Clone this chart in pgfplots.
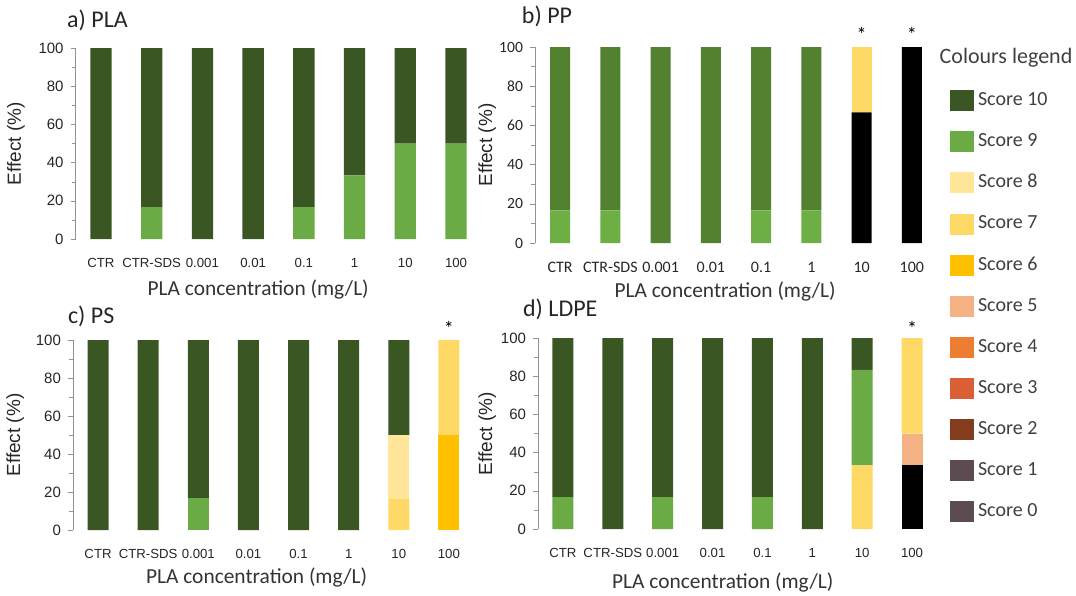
\documentclass[border=0pt]{standalone}
\usepackage{fontspec}
\setmainfont{Carlito}
\newfontfamily\arialf{Liberation Sans}
\usepackage{pgfplots}
\usepackage{pgfplotstable}
\pgfplotsset{compat=1.18}
\definecolor{sc10}{HTML}{3A5623}
\definecolor{sc9}{HTML}{6AAB45}
\definecolor{sc10b}{HTML}{52812F}
\definecolor{sc9b}{HTML}{6DAE45}
\definecolor{sc8}{HTML}{FFE699}
\definecolor{sc7}{HTML}{FFD966}
\definecolor{sc6}{HTML}{FFC000}
\definecolor{sc5}{HTML}{F4B183}
\definecolor{sc4}{HTML}{ED7D31}
\definecolor{sc3}{HTML}{DA5F35}
\definecolor{sc2}{HTML}{853C1E}
\definecolor{sc1}{HTML}{5C4B50}
\definecolor{sc0}{HTML}{5C4B50}

\pgfplotstableread{
x s0 s5 s6 s7 s8 s9 s10
0 0 0 0 0 0 0 100
1 0 0 0 0 0 16.7 83.3
2 0 0 0 0 0 0 100
3 0 0 0 0 0 0 100
4 0 0 0 0 0 16.7 83.3
5 0 0 0 0 0 33.3 66.7
6 0 0 0 0 0 50 50
7 0 0 0 0 0 50 50
}\tA
\pgfplotstableread{
x s0 s5 s6 s7 s8 s9 s10
0 0 0 0 0 0 16.7 83.3
1 0 0 0 0 0 16.7 83.3
2 0 0 0 0 0 0 100
3 0 0 0 0 0 0 100
4 0 0 0 0 0 16.7 83.3
5 0 0 0 0 0 16.7 83.3
6 66.7 0 0 33.3 0 0 0
7 100 0 0 0 0 0 0
}\tB
\pgfplotstableread{
x s0 s5 s6 s7 s8 s9 s10
0 0 0 0 0 0 0 100
1 0 0 0 0 0 0 100
2 0 0 0 0 0 16.7 83.3
3 0 0 0 0 0 0 100
4 0 0 0 0 0 0 100
5 0 0 0 0 0 0 100
6 0 0 0 16.7 33.3 0 50
7 0 0 50 50 0 0 0
}\tC
\pgfplotstableread{
x s0 s5 s6 s7 s8 s9 s10
0 0 0 0 0 0 16.7 83.3
1 0 0 0 0 0 0 100
2 0 0 0 0 0 16.7 83.3
3 0 0 0 0 0 0 100
4 0 0 0 0 0 16.7 83.3
5 0 0 0 0 0 0 100
6 0 0 0 33.3 0 50 16.7
7 33.3 16.7 0 50 0 0 0
}\tD

\tikzset{
 ttl/.style={anchor=base west, font=\fontsize{12}{14}\selectfont, text=black!85},
 ast/.style={font=\fontsize{10}{10}\selectfont},
}
\pgfplotsset{
 panel/.style={
  scale only axis, ybar stacked, bar width=0.42,
  xmin=-0.5, xmax=7.5, ymin=0, ymax=100,
  axis lines*=left, x axis line style={draw=none},
  y axis line style={draw=gray!85},
  xtick={0,...,7}, xticklabels={CTR,CTR-SDS,0.001,0.01,0.1,1,10,100},
  xtick style={draw=none},
  ytick={0,20,...,100}, minor ytick={10,30,...,90},
  ytick style={draw=gray!85}, tick align=outside,
  major tick length=2.5pt, minor tick length=2pt,
  clip=false,
  /pgf/number format/assume math mode=true,
  tick label style={text=black!85},
  xticklabel style={yshift=-3.5pt},
  xticklabel style={font=\arialf\fontsize{6.6}{8}\selectfont},
  yticklabel style={font=\arialf\fontsize{7.5}{8}\selectfont},
  xlabel={PLA concentration (mg/L)}, ylabel={Effect (\%)},
  xlabel style={font=\fontsize{10.7}{12}\selectfont, text=black!80, anchor=center},
  ylabel style={font=\arialf\fontsize{9.5}{10}\selectfont, text=black!85, anchor=center},
 },
 sq/.style={legend image code/.code={\fill[#1] (0.5pt,-5pt) rectangle (12pt,5pt);}},
}

\newcommand{\stackplots}[3]{%
  \addplot[fill=black, draw=none] table[x=x,y=s0]{#1};
  \addplot[fill=sc5, draw=none] table[x=x,y=s5]{#1};
  \addplot[fill=sc6, draw=none] table[x=x,y=s6]{#1};
  \addplot[fill=sc7, draw=none] table[x=x,y=s7]{#1};
  \addplot[fill=sc8, draw=none] table[x=x,y=s8]{#1};
  \addplot[fill=#3, draw=none] table[x=x,y=s9]{#1};
  \addplot[fill=#2, draw=none] table[x=x,y=s10]{#1};
}

\begin{document}
\begin{tikzpicture}
\path[use as bounding box] (0,0) rectangle (538pt,-297.5pt);

% a) PLA
\begin{axis}[panel, width=202.9pt, height=95.5pt, anchor=south west, at={(37.8pt,-119.5pt)},
  xlabel style={at={(axis description cs:0.45,-0.266)}},
  ylabel style={at={(axis description cs:-0.147,0.5)}}]
\stackplots{\tA}{sc10}{sc9}
\node[ttl] at (axis description cs:-0.038,1.109) {a) PLA};
\end{axis}

% b) PP
\begin{axis}[panel, width=201pt, height=98pt, anchor=south west, at={(267.5pt,-121.5pt)},
  xticklabel style={font=\fontsize{8}{9}\selectfont, yshift=0pt},
  yticklabel style={font=\fontsize{7.8}{8}\selectfont},
  xlabel style={at={(axis description cs:0.473,-0.245)}},
  ylabel style={at={(axis description cs:-0.119,0.5)}},
  bar width=0.40,
  legend style={at={(rel axis cs:1.032,0.791)}, anchor=north west, draw=none, fill=none,
    font=\fontsize{10}{12}\selectfont, text=black!75, row sep=8.5pt, inner sep=0pt},
  legend cell align=left]
\addlegendimage{sq=sc10}\addlegendentry{Score 10}
\addlegendimage{sq=sc9}\addlegendentry{Score 9}
\addlegendimage{sq=sc8}\addlegendentry{Score 8}
\addlegendimage{sq=sc7}\addlegendentry{Score 7}
\addlegendimage{sq=sc6}\addlegendentry{Score 6}
\addlegendimage{sq=sc5}\addlegendentry{Score 5}
\addlegendimage{sq=sc4}\addlegendentry{Score 4}
\addlegendimage{sq=sc3}\addlegendentry{Score 3}
\addlegendimage{sq=sc2}\addlegendentry{Score 2}
\addlegendimage{sq=sc1}\addlegendentry{Score 1}
\addlegendimage{sq=sc0}\addlegendentry{Score 0}
\stackplots{\tB}{sc10b}{sc9b}
\node[ttl] at (axis description cs:-0.05,1.122) {b) PP};
\node[ast] at (axis cs:6,106.5) {*};
\node[ast] at (axis cs:7,106.5) {*};
\end{axis}

% c) PS
\begin{axis}[panel, width=200.5pt, height=95pt, anchor=south west, at={(36.5pt,-265pt)},
  xlabel style={at={(axis description cs:0.458,-0.25)}},
  ylabel style={at={(axis description cs:-0.144,0.5)}}]
\stackplots{\tC}{sc10}{sc9}
\node[ttl] at (axis description cs:-0.03,1.089) {c) PS};
\node[ast] at (axis cs:7,106) {*};
\end{axis}

% d) LDPE
\begin{axis}[panel, width=199.5pt, height=95.5pt, anchor=south west, at={(269pt,-264.5pt)},
  xlabel style={at={(axis description cs:0.463,-0.281)}},
  ylabel style={at={(axis description cs:-0.127,0.5)}}]
\stackplots{\tD}{sc10}{sc9}
\node[ttl] at (axis description cs:-0.055,1.11) {d) LDPE};
\node[ast] at (axis cs:7,105) {*};
\end{axis}

\node[anchor=base, font=\fontsize{11}{12}\selectfont, text=black!75] at (503pt,-31.5pt) {Colours legend};
\end{tikzpicture}
\end{document}
